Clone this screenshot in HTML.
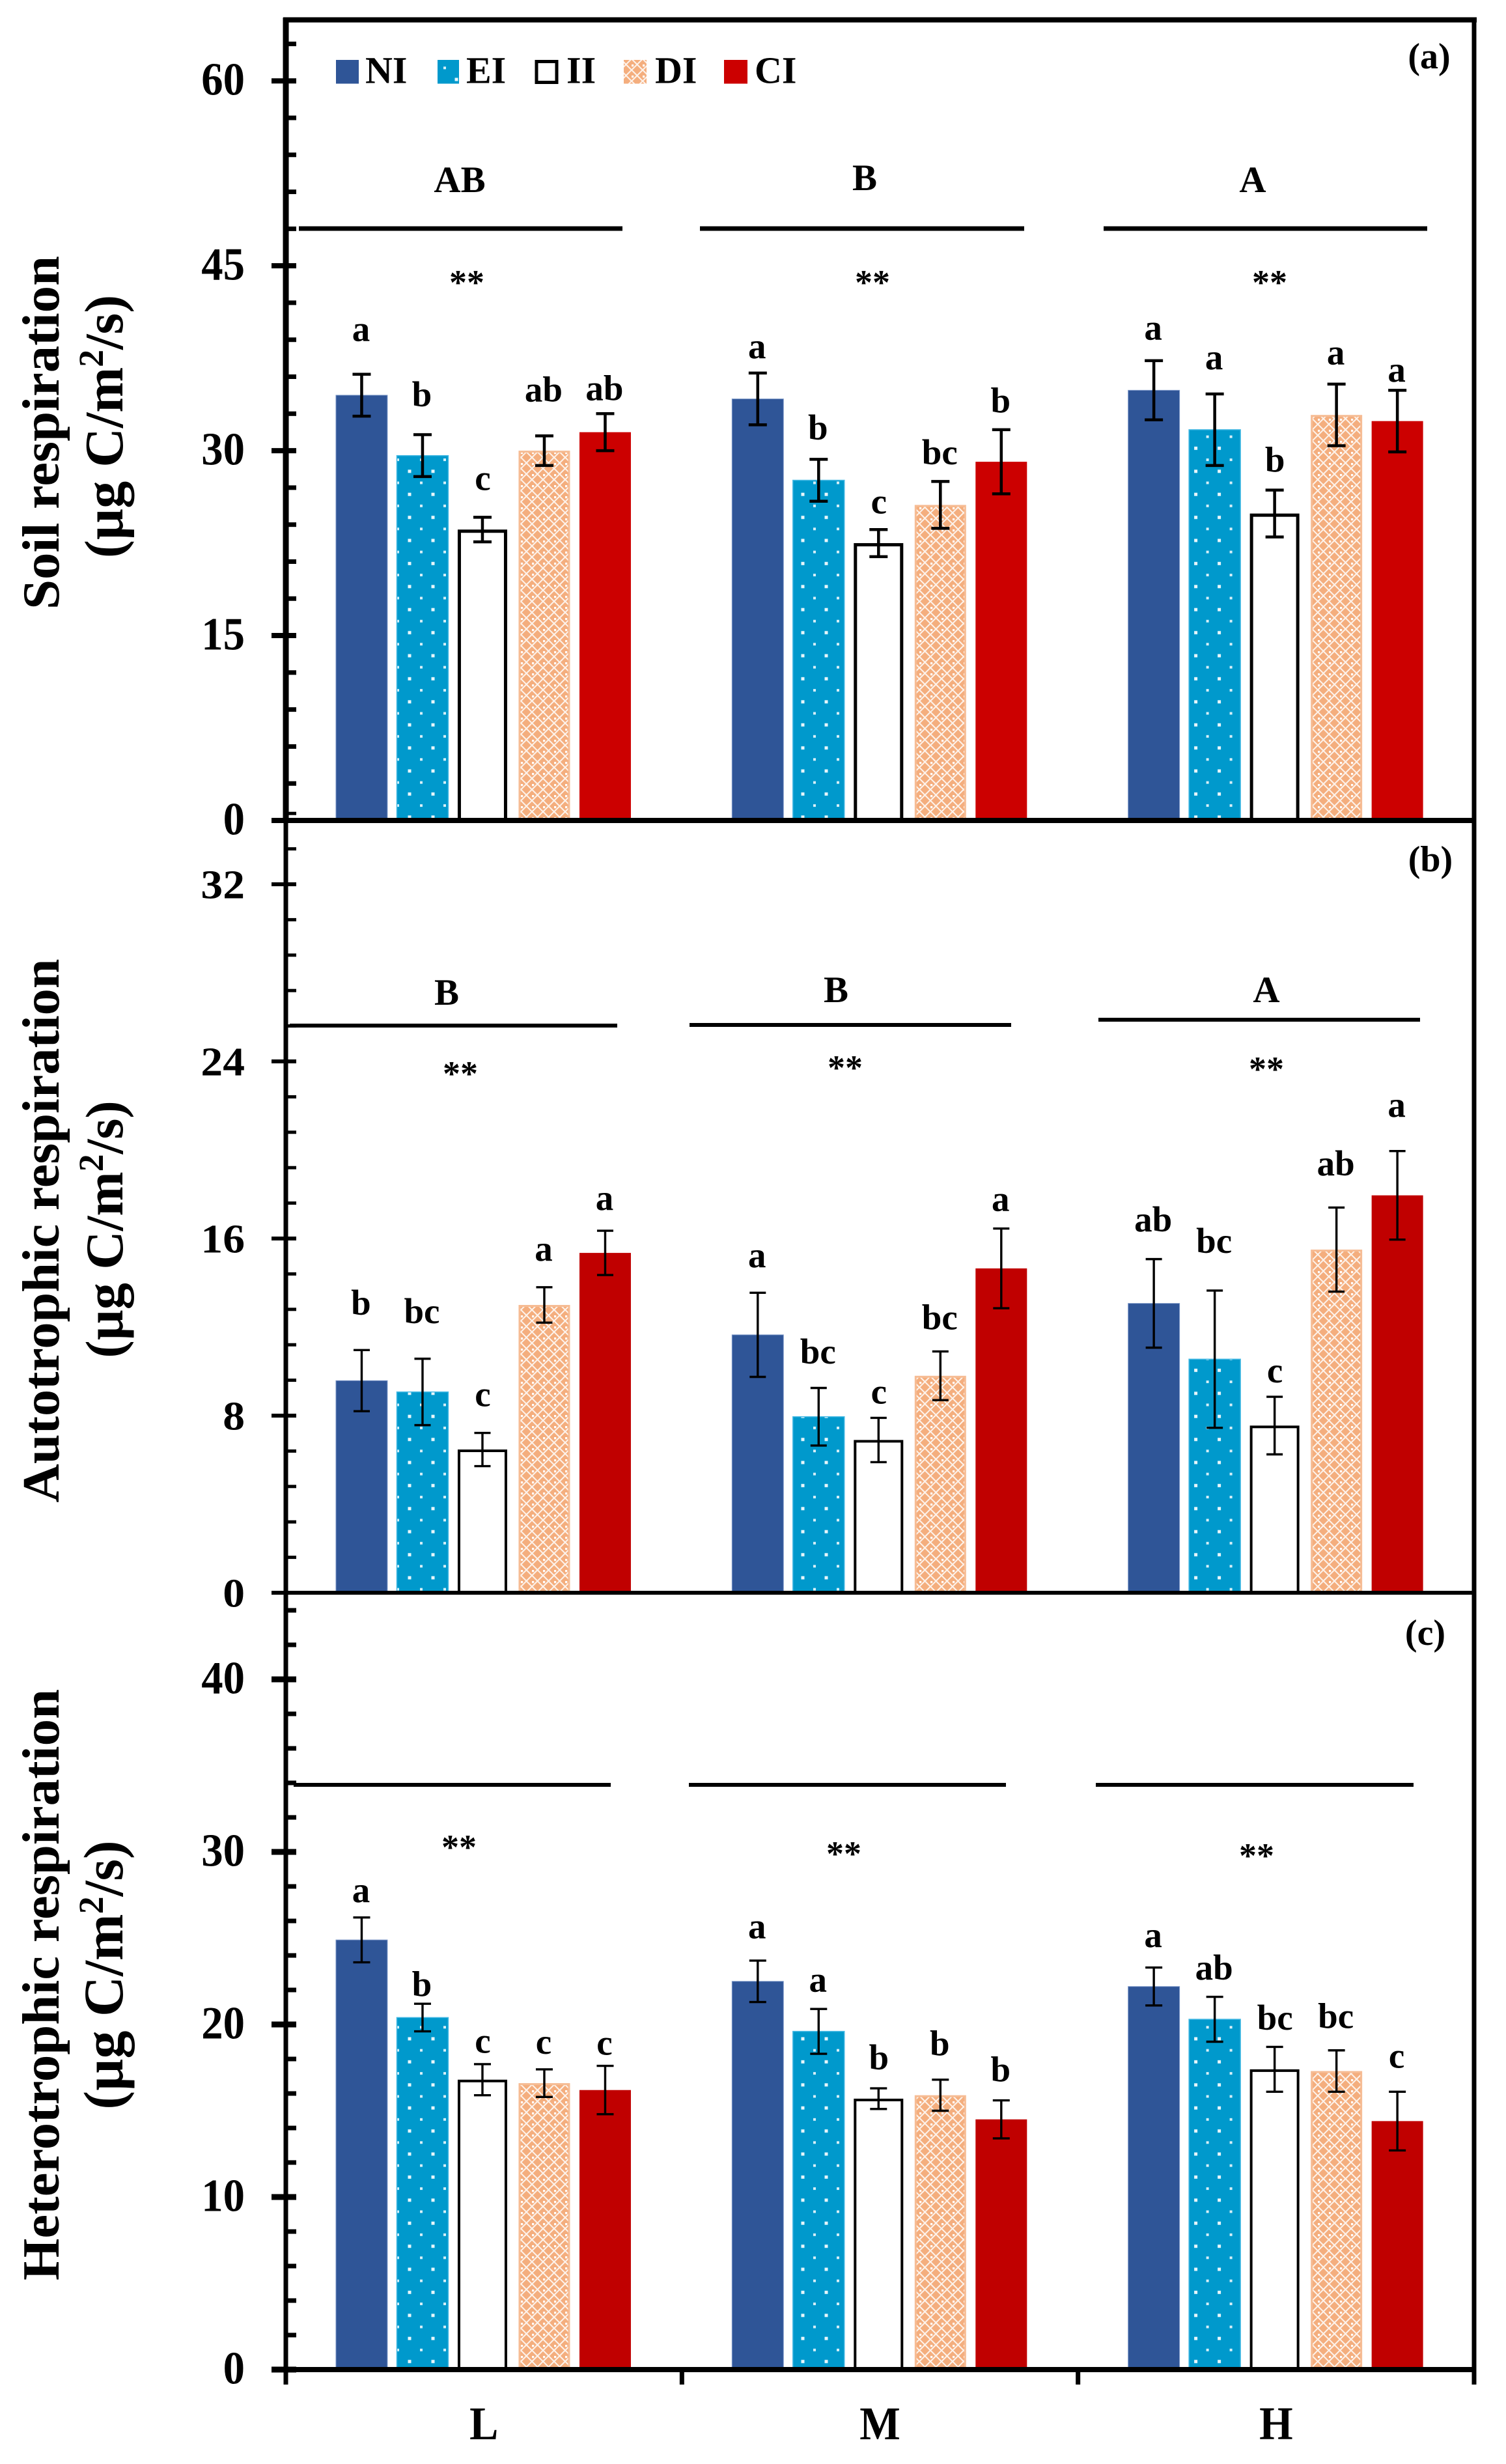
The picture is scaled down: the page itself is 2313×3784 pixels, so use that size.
<!DOCTYPE html>
<html lang="en">
<head>
<meta charset="utf-8">
<title>Soil, autotrophic and heterotrophic respiration</title>
<style>
html,body{margin:0;padding:0;background:#fff;}
svg{display:block;}
text{font-family:"Liberation Serif",serif;font-weight:bold;fill:#000;}
</style>
</head>
<body>
<svg id="chart" xmlns="http://www.w3.org/2000/svg" width="2313" height="3784" viewBox="0 0 2313 3784">
<defs>
  <pattern id="ei-0" patternUnits="userSpaceOnUse" x="620" y="715" width="36" height="35.4"><rect width="36" height="35.4" fill="#0099CC"/><rect x="6.5" y="6.3" width="5" height="5" fill="#e8f6fb"/><rect x="25" y="24.5" width="4" height="4" fill="#d8f0f8"/></pattern>
  <pattern id="ei-1" patternUnits="userSpaceOnUse" x="1224" y="715" width="36" height="35.4"><rect width="36" height="35.4" fill="#0099CC"/><rect x="6.5" y="6.3" width="5" height="5" fill="#e8f6fb"/><rect x="25" y="24.5" width="4" height="4" fill="#d8f0f8"/></pattern>
  <pattern id="ei-2" patternUnits="userSpaceOnUse" x="1827.6" y="715" width="36" height="35.4"><rect width="36" height="35.4" fill="#0099CC"/><rect x="6.5" y="6.3" width="5" height="5" fill="#e8f6fb"/><rect x="25" y="24.5" width="4" height="4" fill="#d8f0f8"/></pattern>
  <pattern id="di" patternUnits="userSpaceOnUse" x="800" y="1000" width="17" height="17"><rect width="17" height="17" fill="#F4AE7E"/><path d="M0 8.5L8.5 0L17 8.5L8.5 17Z" fill="none" stroke="#fff" stroke-width="2" opacity=".85"/><rect x="0" y="0" width="3.2" height="3.2" fill="#fff"/><rect x="7" y="7" width="3" height="3" fill="#F4AE7E"/></pattern>
</defs>

<rect width="2313" height="3784" fill="#fff"/>
<g id="marks"></g>
<g id="axes"></g>

<text transform="translate(90 664.5) rotate(-90)" text-anchor="middle" font-size="80" textLength="543" lengthAdjust="spacingAndGlyphs">Soil respiration</text>
<text transform="translate(188 655) rotate(-90)" text-anchor="middle" font-size="84">(µg C/m<tspan font-size="54" dy="-30">2</tspan><tspan dy="30">/s)</tspan></text>
<text transform="translate(90 1890) rotate(-90)" text-anchor="middle" font-size="80" textLength="835" lengthAdjust="spacingAndGlyphs">Autotrophic respiration</text>
<text transform="translate(188 1888) rotate(-90)" text-anchor="middle" font-size="82">(µg C/m<tspan font-size="54" dy="-30">2</tspan><tspan dy="30">/s)</tspan></text>
<text transform="translate(90 3048) rotate(-90)" text-anchor="middle" font-size="80" textLength="908" lengthAdjust="spacingAndGlyphs">Heterotrophic respiration</text>
<text transform="translate(188 3033) rotate(-90)" text-anchor="middle" font-size="86">(µg C/m<tspan font-size="54" dy="-30">2</tspan><tspan dy="30">/s)</tspan></text>

<g>
  <rect x="516" y="92" width="35" height="36.5" fill="#2F5597"/>
  <text x="561" y="127.5" font-size="58">NI</text>
  <rect x="672" y="92" width="33" height="36.5" fill="url(#ei-0)"/>
  <text x="716" y="127.5" font-size="58">EI</text>
  <rect x="824" y="94.5" width="31" height="32" fill="#fff" stroke="#000" stroke-width="5"/>
  <text x="870" y="127.5" font-size="58">II</text>
  <rect x="958" y="92" width="35" height="36.5" fill="url(#di)"/>
  <text x="1006" y="127.5" font-size="58">DI</text>
  <rect x="1112" y="92" width="36" height="36.5" fill="#CC0000"/>
  <text x="1159" y="127.5" font-size="58">CI</text>
</g>

<text x="2195" y="105" text-anchor="middle" font-size="56">(a)</text>
<text x="2197" y="1338" text-anchor="middle" font-size="56">(b)</text>
<text x="2189" y="2526" text-anchor="middle" font-size="56">(c)</text>

<g stroke="#000" stroke-width="7">
  <line x1="459" y1="351" x2="956" y2="351"/>
  <line x1="1075" y1="351" x2="1573" y2="351"/>
  <line x1="1695" y1="351" x2="2192" y2="351"/>
</g>
<text x="706" y="295" text-anchor="middle" font-size="57">AB</text>
<text x="1328" y="292" text-anchor="middle" font-size="57">B</text>
<text x="1924" y="295" text-anchor="middle" font-size="57">A</text>
<text x="717" y="452" text-anchor="middle" font-size="54">**</text>
<text x="1340" y="452" text-anchor="middle" font-size="54">**</text>
<text x="1950" y="452" text-anchor="middle" font-size="54">**</text>

<g stroke="#000" stroke-width="6">
  <line x1="445" y1="1575" x2="948" y2="1575"/>
  <line x1="1059" y1="1574" x2="1553" y2="1574"/>
  <line x1="1687" y1="1566" x2="2181" y2="1566"/>
</g>
<text x="686" y="1543" text-anchor="middle" font-size="57">B</text>
<text x="1284" y="1539" text-anchor="middle" font-size="57">B</text>
<text x="1945" y="1539" text-anchor="middle" font-size="57">A</text>
<text x="707" y="1667" text-anchor="middle" font-size="54">**</text>
<text x="1298" y="1658" text-anchor="middle" font-size="54">**</text>
<text x="1945" y="1660" text-anchor="middle" font-size="54">**</text>

<g stroke="#000" stroke-width="6">
  <line x1="451" y1="2741" x2="938" y2="2741"/>
  <line x1="1058" y1="2741" x2="1545" y2="2741"/>
  <line x1="1683" y1="2741" x2="2171" y2="2741"/>
</g>
<text x="705" y="2855" text-anchor="middle" font-size="54">**</text>
<text x="1296" y="2865" text-anchor="middle" font-size="54">**</text>
<text x="1930" y="2868" text-anchor="middle" font-size="54">**</text>

<script>
const groupLabels = ['L', 'M', 'H'];
const seriesLabels = ['NI', 'EI', 'II', 'DI', 'CI'];

const soilTicks = ['0', '15', '30', '45', '60'];
const soilMeans = [[34.5, 29.6, 23.6, 30.0, 31.5], [34.2, 27.6, 22.5, 25.6, 29.1], [34.9, 31.7, 24.9, 32.9, 32.4]];
const soilErrors = [[1.7, 1.7, 1.0, 1.2, 1.5], [2.1, 1.7, 1.1, 1.9, 2.6], [2.4, 2.9, 1.9, 2.5, 2.5]];
const soilLetters = [['a', 'b', 'c', 'ab', 'ab'], ['a', 'b', 'c', 'bc', 'b'], ['a', 'a', 'b', 'a', 'a']];
const soilLetterLift = [[2.7, 2.3, 2.2, 2.8, 1.1], [1.2, 1.6, 1.3, 1.4, 1.4], [1.7, 2.0, 1.5, 1.6, 0.7]];

const autoTicks = ['0', '8', '16', '24', '32'];
const autoMeans = [[9.58, 9.07, 6.47, 13.0, 15.35], [11.65, 7.95, 6.9, 9.8, 14.65], [13.07, 10.55, 7.55, 15.5, 17.95]];
const autoErrors = [[1.38, 1.5, 0.75, 0.8, 1.0], [1.9, 1.3, 1.0, 1.1, 1.8], [2.0, 3.1, 1.3, 1.9, 2.0]];
const autoLetters = [['b', 'bc', 'c', 'a', 'a'], ['a', 'bc', 'c', 'bc', 'a'], ['ab', 'bc', 'c', 'ab', 'a']];
const autoLetterLift = [[1.6, 1.6, 1.2, 1.2, 0.95], [1.15, 1.1, 0.65, 1.0, 0.8], [1.25, 1.7, 0.65, 1.45, 1.55]];

const heteroTicks = ['0', '10', '20', '30', '40'];
const heteroMeans = [[24.9, 20.4, 16.8, 16.6, 16.2], [22.5, 19.6, 15.7, 15.9, 14.5], [22.2, 20.3, 17.4, 17.3, 14.4]];
const heteroErrors = [[1.3, 0.8, 0.9, 0.8, 1.4], [1.2, 1.3, 0.6, 0.9, 1.1], [1.1, 1.3, 1.3, 1.2, 1.7]];
const heteroLetters = [['a', 'b', 'c', 'c', 'c'], ['a', 'a', 'b', 'b', 'b'], ['a', 'ab', 'bc', 'bc', 'c']];
const heteroLetterLift = [[0.9, 0.45, 0.65, 0.9, 0.65], [1.3, 1.0, 1.1, 1.4, 1.1], [1.2, 1.0, 1.0, 1.3, 1.4]];

const NS = 'http://www.w3.org/2000/svg';
const marksLayer = document.getElementById('marks');
const axesLayer = document.getElementById('axes');
const AXIS_LEFT = 439;
const AXIS_RIGHT = 2264;
const BAND = (AXIS_RIGHT - AXIS_LEFT) / 3;
const BAR_WIDTH = 79;
const BAR_STEP = 93.5;

function bandCenter(g) { return AXIS_LEFT + BAND * (g + 0.5); }
function barLeft(g, s) { return bandCenter(g) - (4 * BAR_STEP + BAR_WIDTH) / 2 - 0.7 + s * BAR_STEP; }

function make(tag, attrs, parent) {
  const el = document.createElementNS(NS, tag);
  for (const k in attrs) el.setAttribute(k, attrs[k]);
  parent.appendChild(el);
  return el;
}

function drawBar(panel, g, s, value) {
  const y = panel.yScale(value);
  const h = panel.y0 - y;
  const x = barLeft(g, s);
  let el;
  if (s === 0) {
    el = make('rect', {x: x, y: y, width: BAR_WIDTH, height: h, fill: '#2F5597', stroke: '#7f9aca', 'stroke-width': 1}, marksLayer);
  } else if (s === 1) {
    el = make('rect', {x: x, y: y, width: BAR_WIDTH, height: h, fill: 'url(#ei-' + g + ')', stroke: '#45b9e4', 'stroke-width': 1.5}, marksLayer);
  } else if (s === 2) {
    const sw = panel.boxStroke;
    el = make('rect', {x: x + sw / 2, y: y + sw / 2, width: 76 - sw, height: h - sw / 2, fill: '#fff', stroke: '#000', 'stroke-width': sw}, marksLayer);
  } else if (s === 3) {
    el = make('rect', {x: x + 1.5, y: y + 1.5, width: BAR_WIDTH - 3, height: h - 1.5, fill: 'url(#di)', stroke: '#F6BC94', 'stroke-width': 3}, marksLayer);
  } else {
    el = make('rect', {x: x, y: y, width: BAR_WIDTH, height: h, fill: panel.red}, marksLayer);
  }
  
  
  el.setAttribute('aria-label', panel.id + ' ' + groupLabels[g] + ' ' + seriesLabels[s]);
}

function drawError(panel, g, s, value, error) {
  const cx = barLeft(g, s) + (s === 2 ? 38 : BAR_WIDTH / 2);
  const hi = panel.yScale(value + error);
  const lo = panel.yScale(value - error);
  const d = 'M' + cx + ' ' + hi + 'V' + lo +
    'M' + (cx - panel.cap / 2) + ' ' + hi + 'h' + panel.cap +
    'M' + (cx - panel.cap / 2) + ' ' + lo + 'h' + panel.cap;
  const el = make('path', {d: d, fill: 'none', stroke: '#000', 'stroke-width': panel.errStroke}, marksLayer);
  
  
}

function drawLetter(panel, g, s, value, error, letter, lift) {
  const cx = barLeft(g, s) + BAR_WIDTH / 2 - 1;
  const el = make('text', {x: cx, y: panel.yScale(value + error + lift), 'text-anchor': 'middle', 'font-size': 55}, marksLayer);
  el.textContent = letter;
  
  
}

function drawYAxis(panel) {
  const major = panel.ticks.map(Number);
  const stepMinor = (major[1] - major[0]) / 5;
  const minorCount = Math.floor(panel.maxTick / stepMinor + 0.001);
  for (let i = 0; i <= minorCount; i++) {
    const v = i * stepMinor;
    const y = panel.yScale(v);
    const isMajor = i % 5 === 0;
    const tick = make('line', {x1: isMajor ? 417 : AXIS_LEFT, x2: 455, y1: y, y2: y, stroke: '#000', 'stroke-width': isMajor ? panel.majorStroke : panel.minorStroke}, axesLayer);
    
    
  }
  panel.ticks.forEach(function (label) {
    const y = panel.yScale(Number(label)) + 21.5;
    const t = make('text', {transform: 'translate(376 ' + y + ') scale(' + panel.tickScaleX + ' 1)', 'text-anchor': 'end', 'font-size': panel.tickFont}, axesLayer);
    t.textContent = label;
    
    
  });
  const base = make('line', {x1: 417, x2: AXIS_RIGHT, y1: panel.y0, y2: panel.y0, stroke: '#000', 'stroke-width': panel.baseStroke}, axesLayer);
  
  
}

function drawPanel(panel) {
  panel.means.forEach(function (row, g) {
    row.forEach(function (value, s) {
      drawBar(panel, g, s, value);
      drawError(panel, g, s, value, panel.errors[g][s]);
      drawLetter(panel, g, s, value, panel.errors[g][s], panel.letters[g][s], panel.lift[g][s]);
    });
  });
  drawYAxis(panel);
}

function panelScale(y0, k) { return function (v) { return y0 - v * k; }; }

const panels = [
  {id: 'soil', y0: 1260, yScale: panelScale(1260, 18.93), means: soilMeans, errors: soilErrors, letters: soilLetters, lift: soilLetterLift, ticks: soilTicks, maxTick: 63, tickFont: 71, tickScaleX: 0.94, majorStroke: 8, minorStroke: 7, baseStroke: 8, errStroke: 4.5, cap: 28, boxStroke: 5, red: '#CC0000'},
  {id: 'autotrophic', y0: 2446, yScale: panelScale(2446, 34), means: autoMeans, errors: autoErrors, letters: autoLetters, lift: autoLetterLift, ticks: autoTicks, maxTick: 35.2, tickFont: 62, tickScaleX: 1.09, majorStroke: 6, minorStroke: 5, baseStroke: 6, errStroke: 3.4, cap: 25, boxStroke: 4, red: '#C00000'},
  {id: 'heterotrophic', y0: 3639, yScale: panelScale(3639, 26.5), means: heteroMeans, errors: heteroErrors, letters: heteroLetters, lift: heteroLetterLift, ticks: heteroTicks, maxTick: 44, tickFont: 71, tickScaleX: 0.94, majorStroke: 9, minorStroke: 7, baseStroke: 8, errStroke: 3.4, cap: 26, boxStroke: 4, red: '#C00000'}
];

panels.forEach(drawPanel);

const frameTop = make('line', {x1: 435, x2: 2268, y1: 30.5, y2: 30.5, stroke: '#000', 'stroke-width': 8}, axesLayer);



const leftAxisUpper = make('line', {x1: AXIS_LEFT, x2: AXIS_LEFT, y1: 27, y2: 1260, stroke: '#000', 'stroke-width': 9}, axesLayer);



const leftAxisLower = make('line', {x1: AXIS_LEFT, x2: AXIS_LEFT, y1: 1260, y2: 3662, stroke: '#000', 'stroke-width': 7}, axesLayer);



const rightAxis = make('line', {x1: AXIS_RIGHT, x2: AXIS_RIGHT, y1: 27, y2: 3662, stroke: '#000', 'stroke-width': 7}, axesLayer);



[1, 2].forEach(function (i) {
  const x = AXIS_LEFT + BAND * i;
  const tick = make('line', {x1: x, x2: x, y1: 3639, y2: 3662, stroke: '#000', 'stroke-width': 7}, axesLayer);
  
  
});

groupLabels.forEach(function (label, g) {
  const t = make('text', {transform: 'translate(' + bandCenter(g) + ' 3746) scale(0.92 1)', 'text-anchor': 'middle', 'font-size': 72}, axesLayer);
  t.textContent = label;
  
  
});
</script>
</svg>
</body>
</html>
